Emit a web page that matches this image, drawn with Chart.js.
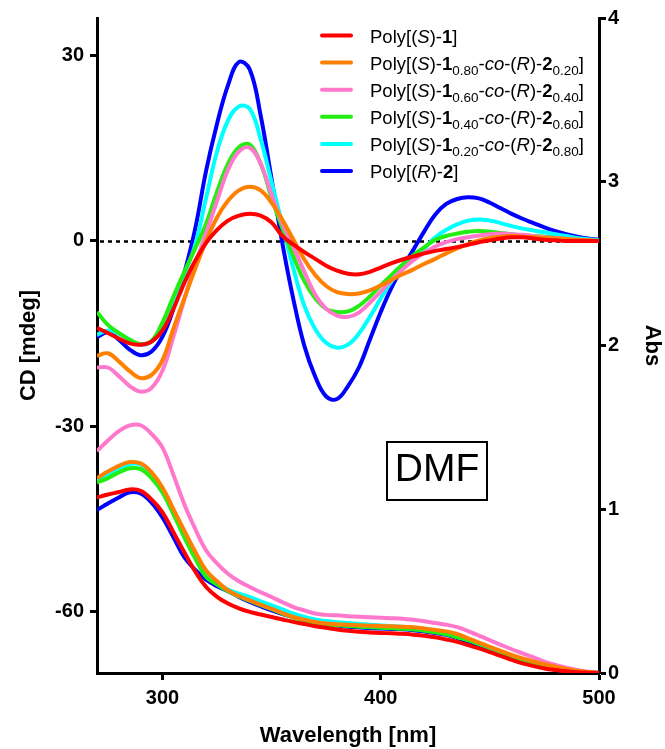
<!DOCTYPE html>
<html><head><meta charset="utf-8">
<script src="https://cdn.jsdelivr.net/npm/chart.js@4.4.1/dist/chart.umd.min.js"></script>
<style>html,body{margin:0;padding:0;background:#fff;}canvas{display:block;}</style>
</head><body>
<canvas id="c" width="665" height="749"></canvas>
<script>
// ---- data ----
const wavelengths = [270,275,280,285,290,295,300,305,310,315,320,325,330,335,340,345,350,355,360,365,370,375,380,385,390,395,400,405,410,415,420,425,430,435,440,445,450,455,460,465,470,475,480,485,490,495,500];

const seriesNames = [
  "Poly[(<i>S</i>)-<b>1</b>]",
  "Poly[(<i>S</i>)-<b>1</b><sub>0.80</sub>-<i>co</i>-(<i>R</i>)-<b>2</b><sub>0.20</sub>]",
  "Poly[(<i>S</i>)-<b>1</b><sub>0.60</sub>-<i>co</i>-(<i>R</i>)-<b>2</b><sub>0.40</sub>]",
  "Poly[(<i>S</i>)-<b>1</b><sub>0.40</sub>-<i>co</i>-(<i>R</i>)-<b>2</b><sub>0.60</sub>]",
  "Poly[(<i>S</i>)-<b>1</b><sub>0.20</sub>-<i>co</i>-(<i>R</i>)-<b>2</b><sub>0.80</sub>]",
  "Poly[(<i>R</i>)-<b>2</b>]"
];

// CD [mdeg]
const cdS1 = [-14.1,-14.9,-15.8,-16.6,-16.8,-16.3,-14.5,-11.0,-6.8,-3.2,-0.3,1.8,3.3,4.1,4.4,4.1,3.0,0.8,-0.6,-1.8,-2.9,-4.0,-4.8,-5.3,-5.4,-5.0,-4.3,-3.6,-3.0,-2.5,-2.0,-1.6,-1.3,-1.0,-0.6,-0.2,0.1,0.4,0.6,0.6,0.4,0.2,0.1,0.0,0.0,0.0,0.0];
const cdS80 = [-18.6,-18.2,-19.5,-21.1,-22.2,-21.7,-19.3,-14.2,-9.3,-4.5,0.0,3.8,6.5,8.2,8.8,8.2,6.2,3.4,0.2,-3.0,-5.5,-7.3,-8.3,-8.6,-8.5,-8.0,-7.2,-6.3,-5.4,-4.6,-3.7,-2.9,-2.0,-1.2,-0.5,0.1,0.5,0.7,0.8,0.7,0.6,0.5,0.4,0.3,0.2,0.1,0.0];
const cdS60 = [-20.5,-20.5,-21.9,-23.5,-24.4,-23.8,-21.0,-15.5,-9.5,-3.8,1.3,6.5,11.5,14.5,15.1,12.5,7.5,2.8,-1.0,-5.0,-8.7,-11.0,-12.1,-12.3,-11.6,-10.0,-8.2,-6.3,-4.6,-3.1,-1.9,-0.9,-0.2,0.3,0.6,0.9,1.1,1.2,1.1,1.0,0.8,0.6,0.5,0.35,0.2,0.1,0.0];
const cdS40 = [-11.5,-13.6,-14.9,-16.0,-16.7,-16.2,-13.2,-9.0,-5.0,-1.2,2.8,8.0,12.5,15.2,15.6,12.5,7.0,2.0,-2.5,-6.5,-9.3,-11.0,-11.5,-11.4,-10.5,-9.0,-7.2,-5.5,-3.8,-2.3,-1.0,0.2,0.8,1.2,1.5,1.6,1.5,1.3,1.1,0.9,0.8,0.7,0.5,0.35,0.2,0.1,0.0];
const cdS20 = [-15.2,-14.5,-15.0,-16.0,-16.8,-16.3,-14.1,-10.0,-5.5,-0.6,7.0,14.5,19.5,21.8,21.4,16.5,9.5,2.5,-4.5,-10.5,-14.3,-16.5,-17.3,-16.8,-15.0,-12.3,-9.3,-6.5,-4.3,-2.8,-1.2,0.6,1.8,2.7,3.3,3.5,3.3,2.9,2.4,2.0,1.7,1.4,1.1,0.8,0.5,0.3,0.1];
const cdR2 = [-15.6,-14.8,-16.0,-17.6,-18.5,-17.9,-15.5,-11.0,-5.2,2.0,11.4,19.0,25.2,29.0,27.8,20.3,10.0,-0.5,-9.5,-17.0,-22.0,-25.2,-25.6,-23.5,-20.5,-16.0,-11.5,-7.5,-4.3,-1.4,1.6,4.3,6.0,6.8,7.1,6.9,6.2,5.3,4.4,3.6,2.9,2.2,1.6,1.1,0.7,0.4,0.2];

// Abs
const absS1 = [1.072,1.09,1.105,1.121,1.113,1.06,0.981,0.86,0.737,0.62,0.525,0.465,0.424,0.395,0.373,0.357,0.342,0.327,0.312,0.299,0.286,0.276,0.266,0.258,0.252,0.248,0.245,0.242,0.239,0.234,0.227,0.218,0.205,0.19,0.17,0.15,0.128,0.104,0.08,0.059,0.042,0.028,0.018,0.01,0.005,0.002,0];
const absS80 = [1.19,1.23,1.265,1.288,1.28,1.225,1.133,1.0,0.869,0.74,0.626,0.56,0.505,0.47,0.443,0.417,0.392,0.366,0.342,0.326,0.312,0.303,0.298,0.295,0.292,0.289,0.287,0.285,0.283,0.279,0.272,0.263,0.254,0.238,0.212,0.186,0.16,0.135,0.11,0.089,0.07,0.053,0.039,0.025,0.014,0.006,0];
const absS60 = [1.356,1.42,1.477,1.512,1.513,1.46,1.376,1.21,1.031,0.88,0.748,0.67,0.606,0.56,0.525,0.493,0.464,0.432,0.403,0.382,0.363,0.355,0.352,0.347,0.343,0.34,0.337,0.335,0.332,0.325,0.316,0.305,0.295,0.28,0.256,0.228,0.2,0.172,0.145,0.12,0.095,0.07,0.05,0.033,0.018,0.008,0];
const absS40 = [1.163,1.19,1.225,1.25,1.245,1.19,1.102,0.97,0.829,0.7,0.586,0.54,0.5,0.468,0.44,0.414,0.39,0.363,0.338,0.318,0.305,0.297,0.292,0.287,0.283,0.279,0.276,0.273,0.27,0.265,0.258,0.248,0.236,0.218,0.2,0.178,0.155,0.128,0.1,0.079,0.06,0.043,0.03,0.019,0.01,0.004,0];
const absS20 = [1.173,1.21,1.245,1.275,1.272,1.21,1.12,0.99,0.85,0.72,0.605,0.55,0.51,0.485,0.464,0.438,0.413,0.388,0.363,0.343,0.327,0.317,0.31,0.305,0.3,0.295,0.29,0.286,0.282,0.277,0.27,0.26,0.248,0.23,0.205,0.178,0.152,0.125,0.1,0.079,0.06,0.044,0.031,0.02,0.011,0.004,0];
const absR2 = [0.995,1.035,1.072,1.103,1.096,1.04,0.95,0.83,0.707,0.63,0.57,0.53,0.5,0.465,0.434,0.407,0.382,0.36,0.342,0.326,0.312,0.3,0.29,0.283,0.278,0.274,0.271,0.269,0.267,0.261,0.253,0.244,0.233,0.213,0.19,0.167,0.144,0.118,0.093,0.069,0.05,0.033,0.02,0.011,0.005,0.002,0];

const xTicks = [300, 400, 500];
const cdTicks = [-60, -30, 0, 30];
const absTicks = [0, 1, 2, 3, 4];
const solventLabel = "DMF";

// ---- styles ----
const seriesColors = ["#FF0000", "#FF8000", "#FF78CC", "#22EE11", "#00FFFF", "#0000FF"];
const cdSeries = [cdS1, cdS80, cdS60, cdS40, cdS20, cdR2];
const absSeries = [absS1, absS80, absS60, absS40, absS20, absR2];
const FONT = "'Liberation Sans', Arial, Helvetica, sans-serif";

const pts = ys => ys.map((y, i) => ({x: wavelengths[i], y: y}));
const plain = s => s.replace(/<[^>]+>/g, "");

const datasets = [];
seriesNames.forEach((name, i) => {
  const common = {borderColor: seriesColors[i], backgroundColor: seriesColors[i], borderWidth: 4,
    pointRadius: 0, fill: false, tension: 0.4, borderJoinStyle: 'round'};
  datasets.push(Object.assign({label: plain(name) + " CD", data: pts(cdSeries[i]), yAxisID: 'y'}, common));
  datasets.push(Object.assign({label: plain(name) + " Abs", data: pts(absSeries[i]), yAxisID: 'y1'}, common));
});

function parseRich(s) {
  const segs = [];
  const re = /<(i|b|sub)>(.*?)<\/\1>|([^<]+)/g;
  let m;
  while ((m = re.exec(s)) !== null) {
    if (m[3] !== undefined) segs.push({t: m[3], k: 'n'});
    else segs.push({t: m[2], k: m[1]});
  }
  return segs;
}

const decorPlugin = {
  id: 'decor',
  beforeDatasetsDraw(chart) {
    const {ctx, chartArea, scales} = chart;
    const y = Math.round(scales.y.getPixelForValue(0)) + 0.5;
    ctx.save();
    ctx.setLineDash([4, 4]);
    ctx.lineWidth = 2.5;
    ctx.strokeStyle = '#000';
    ctx.beginPath();
    ctx.moveTo(chartArea.left + 3, y);
    ctx.lineTo(chartArea.right - 2, y);
    ctx.stroke();
    ctx.restore();
  },
  afterDraw(chart) {
    const {ctx} = chart;
    ctx.save();
    // legend
    const x0 = 320, x1 = 353, tx = 370, y0 = 35.5, dy = 27.1;
    seriesNames.forEach((name, i) => {
      const yy = y0 + i * dy;
      ctx.strokeStyle = seriesColors[i];
      ctx.lineWidth = 4;
      ctx.lineCap = 'round';
      ctx.beginPath(); ctx.moveTo(x0 + 2, yy); ctx.lineTo(x1 - 2, yy); ctx.stroke();
      let x = tx;
      ctx.fillStyle = '#000';
      ctx.textBaseline = 'alphabetic';
      ctx.textAlign = 'left';
      parseRich(name).forEach(seg => {
        let font, by = yy + 7.3;
        if (seg.k === 'i') font = "italic 18.5px " + FONT;
        else if (seg.k === 'b') font = "bold 18.5px " + FONT;
        else if (seg.k === 'sub') { font = "13.5px " + FONT; by = yy + 12.5; }
        else font = "18.5px " + FONT;
        ctx.font = font;
        ctx.fillText(seg.t, x, by);
        x += ctx.measureText(seg.t).width;
      });
    });
    // solvent box
    ctx.lineWidth = 2;
    ctx.strokeStyle = '#000';
    ctx.setLineDash([]);
    ctx.strokeRect(387, 442, 100, 58);
    ctx.fillStyle = '#000';
    ctx.font = "39px " + FONT;
    ctx.textAlign = 'center';
    ctx.textBaseline = 'middle';
    ctx.fillText(solventLabel, 437, 470);
    ctx.restore();
  }
};

const tickFont = {family: FONT, size: 20, weight: 'bold'};
const titleFont = {family: FONT, size: 22, weight: 'bold'};
const gridOpts = {display: true, drawOnChartArea: false, drawTicks: true, tickLength: 7, tickWidth: 3, tickColor: '#000'};
const borderOpts = {display: true, color: '#000', width: 3};

new Chart(document.getElementById('c'), {
  type: 'line',
  data: {datasets: datasets},
  options: {
    responsive: false,
    animation: false,
    devicePixelRatio: 1,
    layout: {padding: {top: 15, left: 0, right: 0, bottom: 0}},
    plugins: {legend: {display: false}, tooltip: {enabled: false}},
    scales: {
      x: {
        type: 'linear', min: 270, max: 500,
        afterBuildTicks: s => { s.ticks = xTicks.map(v => ({value: v})); },
        afterFit: s => { s.height = 76; },
        border: borderOpts, grid: gridOpts,
        ticks: {color: '#000', font: tickFont, padding: 6, maxRotation: 0, autoSkip: false},
        title: {display: true, text: 'Wavelength [nm]', color: '#000', font: titleFont, padding: {top: 0, bottom: 0}}
      },
      y: {
        type: 'linear', position: 'left', min: -70, max: 36.13,
        afterBuildTicks: s => { s.ticks = cdTicks.map(v => ({value: v})); },
        afterFit: s => { s.width = 97; },
        border: borderOpts, grid: gridOpts,
        ticks: {color: '#000', font: tickFont, padding: 6, autoSkip: false},
        title: {display: true, text: 'CD [mdeg]', color: '#000', font: titleFont, padding: {top: 16, bottom: 0}}
      },
      y1: {
        type: 'linear', position: 'right', min: 0, max: 4,
        afterBuildTicks: s => { s.ticks = absTicks.map(v => ({value: v})); },
        afterFit: s => { s.width = 66; },
        border: borderOpts, grid: gridOpts,
        ticks: {color: '#000', font: tickFont, padding: 2, autoSkip: false},
        title: {display: true, text: 'Abs', color: '#000', font: titleFont, padding: {top: 0, bottom: 0}}
      }
    }
  },
  plugins: [decorPlugin]
});
</script>
</body></html>
